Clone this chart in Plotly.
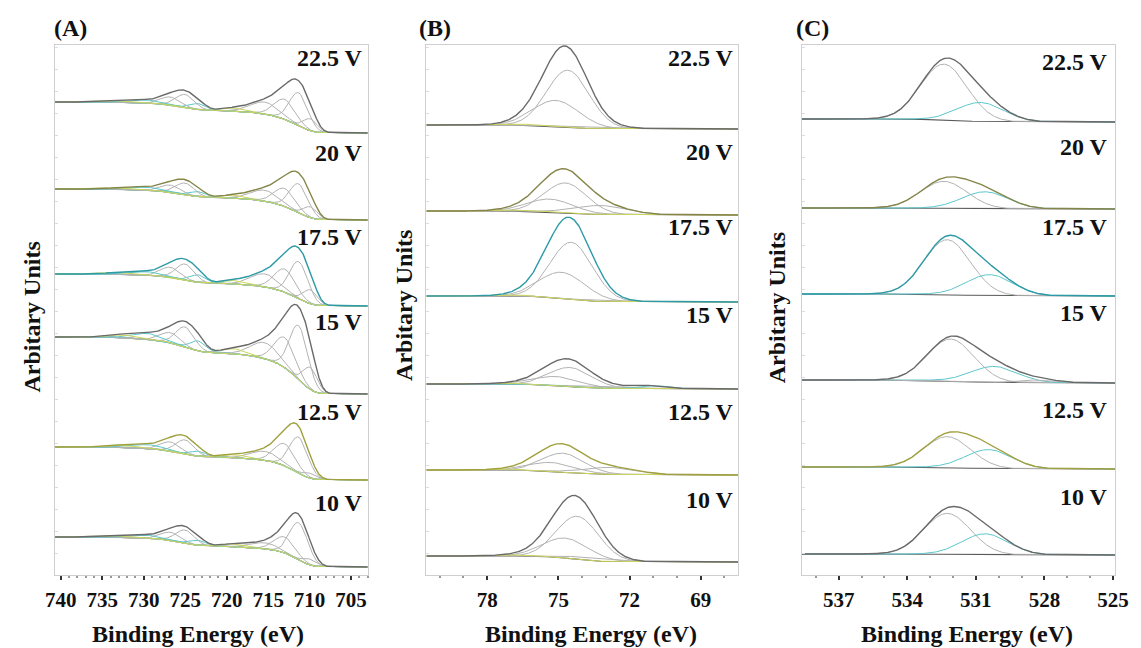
import numpy as np
import plotly.graph_objects as go

W, H = 1141, 648
voltages = ["22.5 V", "20 V", "17.5 V", "15 V", "12.5 V", "10 V"]
total_colors = ["#6a6a6a", "#85854a", "#2e9aa6", "#6a6a6a", "#a0a040", "#6a6a6a"]

# ---------------- Panel A : Fe 2p ----------------
A_centers = [709.9, 711.3, 713.0, 715.4, 719.0, 723.4, 725.0, 726.8, 729.5, 732.5]
A_fwhm = [2.0, 2.6, 3.0, 4.0, 3.5, 2.2, 2.6, 2.8, 4.0, 4.0]
A_colors = ["g", "g", "g", "g", "y", "c", "g", "g", "c", "y"]
A_right = [442, 355, 269, 181, 95, 8]
A_left = [473, 386, 301, 238, 128, 38]
A_h = [
    [12, 33, 20, 12, 3, 6, 13, 8, 3, 1.5],
    [11, 29, 18, 11, 3, 5, 11.5, 7, 3, 1.5],
    [14, 37, 23, 13, 3.5, 7.5, 16, 10, 3.5, 2],
    [22, 54, 30, 16, 5, 10, 20, 10, 6, 2.5],
    [5, 36, 22, 9, 3, 5, 14, 9, 4, 2],
    [6, 37, 16, 6, 3, 5, 13, 8, 3, 1.5],
]

# ---------------- Panel B : Al 2p ----------------
B_fwhm = [2.1, 2.3, 2.6, 1.5, 2.0]
B_colors = ["g", "g", "g", "c", "y"]
B_right = [446, 360, 273, 186, 100, 13]
B_left = [450, 364, 279, 191, 105, 19]
B_centers = [
    [74.6, 75.1, 72.9, 70.8, 76.8],
    [74.7, 75.35, 73.2, 70.8, 76.8],
    [74.45, 74.85, 72.9, 70.8, 76.8],
    [74.5, 75.05, 72.8, 70.9, 76.8],
    [74.8, 75.27, 72.8, 70.8, 76.8],
    [74.2, 74.7, 73.6, 70.8, 76.8],
]
B_h = [
    [57, 26, 1.5, 0, 1],
    [30, 13, 9, 0, 1],
    [57, 26, 1, 0, 1],
    [19, 9, 2, 3, 0.8],
    [19, 9, 7, 0, 1],
    [43, 20, 3, 0, 1],
]

# ---------------- Panel C : O 1s ----------------
C_fwhm = [2.4, 2.4, 2.0]
C_colors = ["g", "c", "g"]
C_right = [453, 366, 279, 192, 106, 20]
C_left = [456, 367, 281, 195, 108, 21]
C_centers = [
    [532.4, 530.8, 528.3],
    [532.4, 530.6, 528.3],
    [532.25, 530.4, 528.3],
    [532.1, 530.2, 528.2],
    [532.25, 530.45, 528.3],
    [532.25, 530.6, 528.3],
]
C_h = [
    [56, 19, 0],
    [27, 17, 0],
    [55, 21, 0],
    [42, 16, 3],
    [31, 19, 0],
    [41, 21, 0],
]

x_ranges = [[740.7, 703.0], [80.56, 67.43], [538.62, 524.9]]
x_ticks = [dict(tick0=705, dtick=5), dict(tick0=69, dtick=3), dict(tick0=525, dtick=3)]
x_doms_px = [(46, 365), (425, 743), (808, 1128)]

COL = {"g": "#b2b2b2", "c": "#5cc6cc", "y": "#ccd65a"}


def gauss(x, c, fwhm, h):
    s = fwhm / 2.3548
    return h * np.exp(-((x - c) ** 2) / (2 * s * s))


fig = go.Figure()


def add_panel(idx, centers_list, fwhm, colors, heights, rights, lefts):
    xa = "x" if idx == 0 else f"x{idx+1}"
    ya = "y" if idx == 0 else f"y{idx+1}"
    lo, hi = sorted(x_ranges[idx])
    x = np.linspace(lo, hi, 700)
    for k in range(6):
        cents = centers_list[k]
        comps = [gauss(x, c, w, h) for c, w, h in zip(cents, fwhm, heights[k])]
        tot = np.sum(comps, axis=0)
        cum = np.cumsum(tot)
        bg = rights[k] + (lefts[k] - rights[k]) * cum / cum[-1]
        fig.add_trace(go.Scatter(x=x, y=bg, mode="lines", xaxis=xa, yaxis=ya,
                                 line=dict(color="#5a5a5a", width=1.1), hoverinfo="skip"))
        for comp, col, h in zip(comps, colors, heights[k]):
            if h <= 0:
                continue
            fig.add_trace(go.Scatter(x=x, y=bg + comp, mode="lines", xaxis=xa, yaxis=ya,
                                     line=dict(color=COL[col], width=1), hoverinfo="skip"))
        fig.add_trace(go.Scatter(x=x, y=bg + tot, mode="lines", xaxis=xa, yaxis=ya,
                                 line=dict(color=total_colors[k], width=1.4), hoverinfo="skip"))


add_panel(0, [A_centers] * 6, A_fwhm, A_colors, A_h, A_right, A_left)
add_panel(1, B_centers, B_fwhm, B_colors, B_h, B_right, B_left)
add_panel(2, C_centers, C_fwhm, C_colors, C_h, C_right, C_left)

serif = "Liberation Serif"
ydom = [1 - 575 / H, 1 - 45 / H]
layout = dict(
    width=W, height=H, showlegend=False,
    margin=dict(l=0, r=0, t=0, b=0),
    paper_bgcolor="white", plot_bgcolor="white",
)
for i in range(3):
    sx = "" if i == 0 else str(i + 1)
    layout["xaxis" + sx] = dict(
        domain=[x_doms_px[i][0] / W, x_doms_px[i][1] / W],
        range=x_ranges[i], anchor="y" + sx,
        showline=True, mirror=True, linecolor="#cfcfcf", linewidth=1,
        showgrid=False, zeroline=False,
        ticks="outside", ticklen=4, tickcolor="#333", tickwidth=1.5,
        tickmode="linear", **x_ticks[i],
        minor=dict(ticks="outside", ticklen=2, tickcolor="#999", nticks=5),
        tickfont=dict(family=serif, size=21, color="#111", weight="bold"),
        ticklabelstandoff=2, ticklabeloverflow="allow",
    )
    layout["yaxis" + sx] = dict(
        domain=ydom, range=[0, 530], anchor="x" + sx,
        showline=True, mirror=True, linecolor="#cfcfcf", linewidth=1,
        showgrid=False, zeroline=False, showticklabels=False,
        ticks="inside", ticklen=3, tickcolor="#dddddd", dtick=22,
    )
fig.update_layout(**layout)

font24 = dict(family=serif, size=24, color="#111", weight="bold")
ann = []
# panel letters
for txt, px in [("(A)", 43), ("(B)", 415), ("(C)", 800)]:
    ann.append(dict(text=txt, x=px / W, y=1 - 28 / H, xref="paper", yref="paper",
                    xanchor="left", yanchor="middle", showarrow=False, font=font24))
# x titles
for px in [192, 593, 977]:
    ann.append(dict(text="Binding Energy (eV)", x=px / W, y=1 - 634 / H, xref="paper", yref="paper",
                    xanchor="center", yanchor="middle", showarrow=False, font=font24))
# y titles
for px, py in [(22, 317), (402, 305), (783, 308)]:
    ann.append(dict(text="Arbitary Units", x=px / W, y=1 - py / H, xref="paper", yref="paper",
                    xanchor="center", yanchor="middle", textangle=-90, showarrow=False, font=font24))
# voltage labels
label_pos = [
    (362, [58, 153, 237, 322, 412, 503]),
    (741, [58, 152, 227, 315, 412, 500]),
    (1123, [62, 147, 227, 313, 410, 497]),
]
for rx, ys in label_pos:
    for v, py in zip(voltages, ys):
        ann.append(dict(text=v, x=rx / W, y=1 - py / H, xref="paper", yref="paper",
                        xanchor="right", yanchor="middle", showarrow=False, font=font24))
fig.update_layout(annotations=ann)

fig.write_html("out.html", config={"displayModeBar": False},
               post_script="document.body.style.margin='0px';document.body.style.overflow='hidden';")
